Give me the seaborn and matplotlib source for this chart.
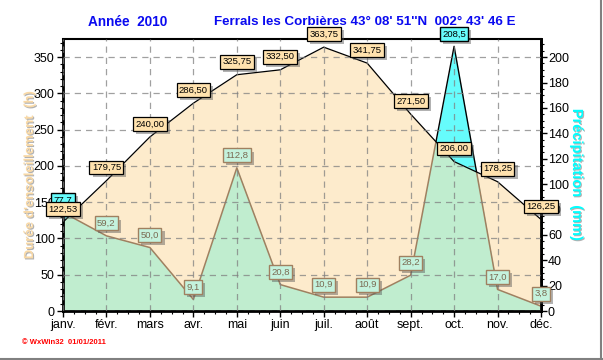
import numpy as np
import pandas as pd
import matplotlib
matplotlib.use("Agg")
import matplotlib.pyplot as plt
import seaborn as sns
import matplotlib.patheffects as pe
from matplotlib.path import Path
from matplotlib.lines import Line2D
from matplotlib.ticker import MultipleLocator, AutoMinorLocator

# ---- data ----
months = ['janv.', 'févr.', 'mars', 'avr.', 'mai', 'juin', 'juil.', 'août',
          'sept.', 'oct.', 'nov.', 'déc.']
sunshine = [122.53, 179.75, 240.00, 286.50, 325.75, 332.50, 363.75, 341.75,
            271.50, 206.00, 178.25, 126.25]
precip = [77.7, 59.2, 50.0, 9.1, 112.8, 20.8, 10.9, 10.9, 28.2, 208.5, 17.0, 3.8]
sun_ticks = [0, 50, 100, 150, 200, 250, 300, 350]
precip_ticks = [0, 20, 40, 60, 80, 100, 120, 140, 160, 180, 200]
RATIO = 350 / 200   # 350 h on the left axis <-> 200 mm on the right axis
SUN_MAX = 375

ORANGE = '#FDEBCC'
GREEN = '#C0EDCF'
CYAN = '#66FCFC'
BROWN = '#A08060'

sns.set_theme(style='white')
plt.rcParams['font.family'] = ['Liberation Sans', 'DejaVu Sans']

df = pd.DataFrame({'x': np.arange(len(months)), 'month': months,
                   'sun': sunshine, 'precip': precip})
df['precip_h'] = df['precip'] * RATIO

fig = plt.figure(figsize=(6.03, 3.6), dpi=100)
fig.patch.set_facecolor('white')
ax = fig.add_axes([63 / 603, 49 / 360, (541 - 63) / 603, (311 - 39) / 360])
ax.set_facecolor('white')

x = df['x'].values
# sunshine area
sun_poly = ax.fill_between(x, 0, df['sun'], color=ORANGE, lw=0, zorder=1)
sun_path = sun_poly.get_paths()[0]
# precipitation area (cyan above sunshine, green inside sunshine)
ax.fill_between(x, 0, df['precip_h'], color=CYAN, lw=0, zorder=1.1)
green = ax.fill_between(x, 0, df['precip_h'], color=GREEN, lw=0, zorder=1.2)
green.set_clip_path(sun_path, ax.transData)

# precipitation outline: brown inside sunshine, black above
sns.lineplot(data=df, x='x', y='precip_h', color=BROWN, lw=1.1, ax=ax, zorder=2)
brown_line = ax.lines[-1]
brown_line.set_clip_path(sun_path, ax.transData)
verts = [(xi, yi) for xi, yi in zip(x, df['sun'])] + [(x[-1], 2000), (x[0], 2000), (x[0], df['sun'][0])]
above_path = Path(verts, closed=True)
sns.lineplot(data=df, x='x', y='precip_h', color='black', lw=1.0, ax=ax, zorder=2.1)
ax.lines[-1].set_clip_path(above_path, ax.transData)

# sunshine line
sns.lineplot(data=df, x='x', y='sun', color='black', lw=0.9, ax=ax, zorder=2.2)

ax.set_xlim(0, len(months) - 1)
ax.set_ylim(0, SUN_MAX)
ax.set_xlabel('')
ax.set_ylabel('')
ax.set_xticks(x)
ax.set_xticklabels(months)
ax.set_yticks(sun_ticks)
ax.xaxis.set_minor_locator(AutoMinorLocator(4))
ax.yaxis.set_minor_locator(MultipleLocator(10))
ax.tick_params(axis='both', which='both', direction='out', color='black',
               labelsize=9, labelcolor='black')
ax.tick_params(axis='both', which='major', length=4, width=1, pad=2)
ax.tick_params(axis='both', which='minor', length=2.5, width=0.8)
ax.tick_params(axis='x', which='both', bottom=True)
ax.tick_params(axis='y', which='both', left=True)

ax.set_axisbelow(False)
ax.grid(True, which='major', color='#808080', ls=(0, (5, 4)), lw=0.9, alpha=0.75)

for side in ['left', 'bottom', 'right']:
    ax.spines[side].set_color('black')
    ax.spines[side].set_linewidth(2)
ax.spines['top'].set_color('black')
ax.spines['top'].set_linewidth(1.5)

sec = ax.secondary_yaxis('right', functions=(lambda y: y / RATIO, lambda y: y * RATIO))
sec.set_yticks(precip_ticks)
sec.yaxis.set_minor_locator(MultipleLocator(5))
sec.tick_params(which='both', direction='out', color='black', labelsize=9, labelcolor='black')
sec.tick_params(which='major', length=4, width=1, pad=1)
sec.tick_params(which='minor', length=2.5, width=0.8)
sec.spines['right'].set_linewidth(2)
sec.spines['right'].set_color('black')

shadow = [pe.SimplePatchShadow(offset=(2.2, -2.2), shadow_rgbFace='#555555', alpha=0.45), pe.Normal()]

# precipitation labels
for xi, p, s in zip(x, df['precip'], df['sun']):
    above = p * RATIO > s
    txt = f"{p:.1f}".replace('.', ',')
    if above:
        fc, ec, tc = CYAN, 'black', 'black'
    else:
        fc, ec, tc = '#C4F2DD', BROWN, '#7A6A52'
    ann = ax.annotate(txt, (xi, p * RATIO), xytext=(0, 9), textcoords='offset points',
                      ha='center', va='center', fontsize=6.8, color=tc, zorder=5,
                      annotation_clip=False,
                      bbox=dict(boxstyle='square,pad=0.25', fc=fc, ec=ec, lw=1))
    ann.set_clip_on(False)
    ann.get_bbox_patch().set_path_effects(shadow)

# sunshine labels
for xi, s in zip(x, df['sun']):
    txt = f"{s:.2f}".replace('.', ',')
    ann = ax.annotate(txt, (xi, s), xytext=(0, 9.4), textcoords='offset points',
                      ha='center', va='center', fontsize=6.8, color='black', zorder=6,
                      annotation_clip=False,
                      bbox=dict(boxstyle='square,pad=0.25', fc='#FFE2AE', ec='black', lw=0.9))
    ann.set_clip_on(False)
    ann.get_bbox_patch().set_path_effects(shadow)

# titles
BLUE = '#0A0AF0'
fig.text(128 / 603, 1 - 22 / 360, "Année  2010", ha='center', va='center',
         color=BLUE, fontsize=9.8, fontweight='bold')
fig.text(365 / 603, 1 - 22 / 360, "Ferrals les Corbières 43° 08' 51''N  002° 43' 46 E",
         ha='center', va='center', color=BLUE, fontsize=9.6, fontweight='bold')

# axis titles
fig.text(30 / 603, 1 - 175 / 360, "Durée d'ensoleillement  (h)", rotation=90,
         ha='center', va='center', color='#F9D9A6', fontsize=9.5, fontweight='bold',
         path_effects=[pe.SimplePatchShadow(offset=(0.8, -0.8), shadow_rgbFace='black', alpha=0.3), pe.Normal()])
fig.text(577 / 603, 1 - 175 / 360, "Précipitation  (mm)", rotation=270,
         ha='center', va='center', color='#00FFFF', fontsize=10.5, fontweight='bold',
         path_effects=[pe.SimplePatchShadow(offset=(0.8, -0.8), shadow_rgbFace='black', alpha=0.3), pe.Normal()])

# watermark
fig.text(22 / 603, 1 - 342 / 360, "© WxWin32  01/01/2011", ha='left', va='center',
         color='red', fontsize=5.5, fontweight='bold')

# gray frame lines
fig.add_artist(Line2D([0, 1], [1.5 / 360, 1.5 / 360], transform=fig.transFigure,
                      color='#808080', lw=1.5))
fig.add_artist(Line2D([600.5 / 603, 600.5 / 603], [1.5 / 360, 1], transform=fig.transFigure,
                      color='#808080', lw=1.5))

fig.savefig('out.png', dpi=100, facecolor='white')
